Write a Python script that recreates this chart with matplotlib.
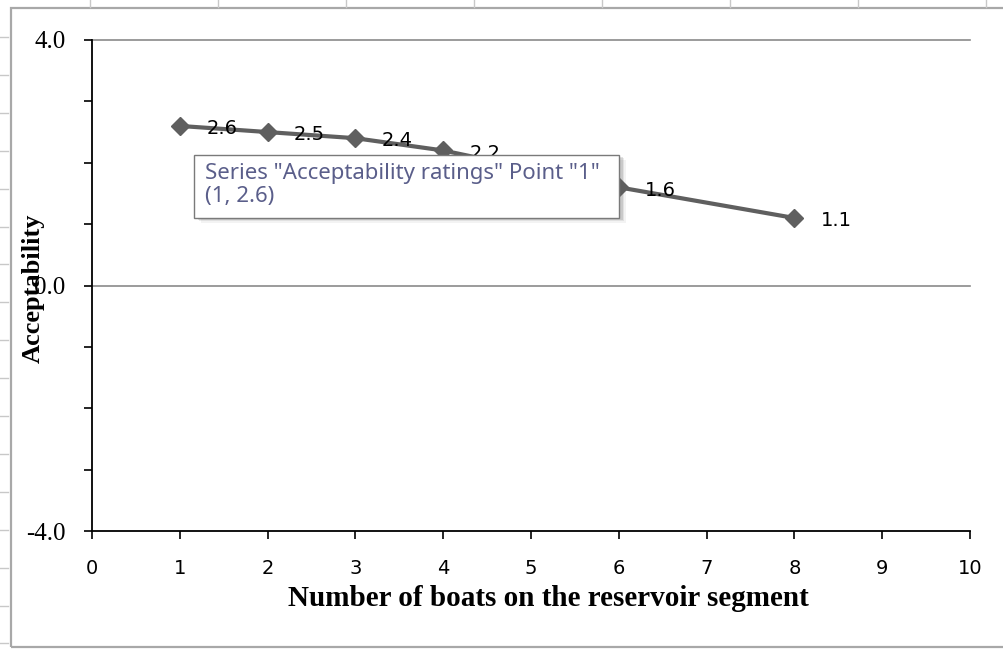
import matplotlib
matplotlib.use('Agg')
import matplotlib.pyplot as plt
from matplotlib.patches import Rectangle
from matplotlib.lines import Line2D
import numpy as np

# ---- data ----
boats = [1, 2, 3, 4, 5, 6, 8]
ratings = [2.6, 2.5, 2.4, 2.2, 1.9, 1.6, 1.1]
x_ticks = list(range(0, 11))
y_major = [-4.0, 0.0, 4.0]
y_major_labels = ['-4.0', '0.0', '4.0']
y_minor = [-3, -2, -1, 1, 2, 3]
series_name = 'Acceptability ratings'
hover_index = 0
x_label = 'Number of boats on the reservoir segment'
y_label = 'Acceptability'

W, H = 1004, 650
fig = plt.figure(figsize=(W / 100, H / 100), dpi=100)
fig.patch.set_facecolor('white')


def fx(x):
    return x / W


def fy(y):
    return 1 - y / H


# ---- axes ----
ax = fig.add_axes([fx(92), fy(531), (970 - 92) / W, (531 - 40) / H])
ax.set_xlim(0, 10)
ax.set_ylim(-4, 4)
for s in ['top', 'right']:
    ax.spines[s].set_visible(False)
for s in ['left', 'bottom']:
    ax.spines[s].set_color('black')
    ax.spines[s].set_linewidth(1.3)
    ax.spines[s].set_zorder(4)

for yv in y_major:
    if yv != -4.0:
        ax.axhline(yv, color='#8a8a8a', lw=1.2, clip_on=False, zorder=1)

ax.set_xticks(x_ticks)
ax.set_yticks(y_major)
ax.set_yticks(y_minor, minor=True)
ax.tick_params(axis='x', which='both', direction='out', length=6, width=1.2,
               color='black', pad=14)
ax.tick_params(axis='y', which='both', direction='out', length=6, width=1.2,
               color='black', pad=13)
ax.set_xticklabels([str(t) for t in x_ticks], fontfamily='DejaVu Sans', fontsize=14)
ax.set_yticklabels(y_major_labels, fontfamily='Liberation Serif', fontsize=18)

ax.plot(boats, ratings, color='#5f5f5f', lw=3, marker='D', markersize=9,
        markerfacecolor='#5f5f5f', markeredgecolor='#5f5f5f', zorder=3, clip_on=False)

for xv, yv in zip(boats, ratings):
    ax.annotate(f'{yv:.1f}', (xv, yv), xytext=(19, -2), textcoords='offset points',
                ha='left', va='center', fontsize=14, fontfamily='DejaVu Sans',
                color='black', zorder=5)

# ---- axis titles ----
fig.text(fx(548), fy(598), x_label, ha='center', va='center',
         fontfamily='Liberation Serif', fontweight='bold', fontsize=21)
fig.text(fx(33), fy(288), y_label, ha='center', va='center', rotation=90,
         fontfamily='Liberation Serif', fontweight='bold', fontsize=19)

# ---- outer chart border & sheet decoration ----
fig.add_artist(Rectangle((fx(11), fy(647)), (W + 20 - 11) / W, (647 - 8) / H,
                         transform=fig.transFigure, fill=False,
                         edgecolor='#a8a8a8', lw=1.6, zorder=0))
for yy in np.arange(37, 650, 37.9):
    fig.add_artist(Line2D([0, fx(8)], [fy(yy), fy(yy)], transform=fig.transFigure,
                          color='#c8c8c8', lw=1))
for xx in np.arange(90, 1004, 128):
    fig.add_artist(Line2D([fx(xx), fx(xx)], [1, fy(7)], transform=fig.transFigure,
                          color='#c8c8c8', lw=1))

# ---- tooltip ----
tl, tt, tr, tb = 194, 155, 619, 218
for i, a in enumerate([0.18, 0.12, 0.07]):
    off = 2 + i * 1.5
    fig.add_artist(Rectangle((fx(tl + off + 2), fy(tb + off)), (tr - tl) / W, (tb - tt) / H,
                             transform=fig.transFigure, facecolor='#606060', edgecolor='none',
                             alpha=a, zorder=8))
fig.add_artist(Rectangle((fx(tl), fy(tb)), (tr - tl) / W, (tb - tt) / H,
                         transform=fig.transFigure, facecolor='white', edgecolor='#7a7a7a',
                         lw=1.0, zorder=9))
fig.text(fx(205), fy(173), f'Series "{series_name}" Point "{hover_index + 1}"',
         ha='left', va='center', fontsize=16, fontfamily='Noto Sans', color='#5a5e8a', zorder=10)
fig.text(fx(205), fy(197), f'({boats[hover_index]}, {ratings[hover_index]})',
         ha='left', va='center', fontsize=16, fontfamily='Noto Sans', color='#5a5e8a', zorder=10)

fig.savefig('out.png', dpi=100, facecolor='white')
